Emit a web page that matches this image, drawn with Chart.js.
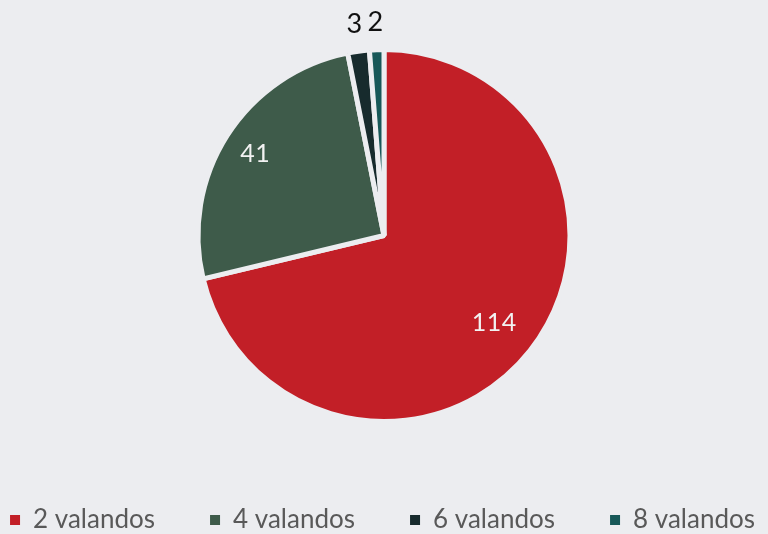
<!DOCTYPE html>
<html>
<head>
<meta charset="utf-8">
<script src="https://cdn.jsdelivr.net/npm/chart.js@4/dist/chart.umd.min.js"></script>
<style>
  html, body { margin: 0; padding: 0; background: #ECEDF0; }
  #wrap { width: 768px; height: 534px; position: relative; }
</style>
</head>
<body>
<div id="wrap"><canvas id="c" width="768" height="534"></canvas></div>
<script>
const categories = ['2 valandos', '4 valandos', '6 valandos', '8 valandos'];
const values = [114, 41, 3, 2];
const colors = ['#C21F27', '#3E5B4A', '#172B2D', '#175858'];
const bg = '#ECEDF0';

const FONT = 'Lato';
const LEGEND_SIZE = 26;
const BOX = 10;
const PITCH = 200;

// measure legend text to derive padding giving the desired item pitch
const mctx = document.createElement('canvas').getContext('2d');
mctx.font = LEGEND_SIZE + 'px ' + FONT;
const tw = mctx.measureText(categories[0]).width;
const legendPad = Math.max(10, PITCH - (BOX + LEGEND_SIZE / 2 + tw));
// legend text centre at y=520, legend bottom at 534+8.5, pie centre y = 235.5
const legendTop = 520 - legendPad - LEGEND_SIZE / 2;
const bottomPad = 534 - (legendTop + LEGEND_SIZE + legendPad + 10);
const topPad = 2 * 235.5 - legendTop;

const labelPlugin = {
  id: 'sliceLabels',
  afterDatasetsDraw(chart) {
    const ctx = chart.ctx;
    const meta = chart.getDatasetMeta(0);
    const data = chart.data.datasets[0].data;
    const total = data.reduce((a, b) => a + b, 0);
    ctx.save();
    ctx.letterSpacing = '0.5px';
    ctx.textAlign = 'center';
    ctx.textBaseline = 'alphabetic';
    meta.data.forEach((arc, i) => {
      const p = arc.getProps(['x', 'y', 'startAngle', 'endAngle', 'outerRadius'], true);
      const mid = (p.startAngle + p.endAngle) / 2;
      const frac = data[i] / total;
      const txt = String(data[i]);
      let r, col, size;
      if (frac < 0.05) {
        size = 27;
        ctx.font = size + 'px ' + FONT;
        r = p.outerRadius + 28; col = '#111111';
      } else {
        size = 25;
        ctx.font = size + 'px ' + FONT;
        const w = ctx.measureText(txt).width;
        r = p.outerRadius * 0.956 - 0.83 * w; col = '#F2F2F2';
      }
      ctx.fillStyle = col;
      const cx = p.x + Math.cos(mid) * r;
      const cy = p.y + Math.sin(mid) * r;
      ctx.fillText(txt, cx, cy + 0.36 * size);
    });
    ctx.restore();
  }
};

new Chart(document.getElementById('c'), {
  type: 'pie',
  data: {
    labels: categories,
    datasets: [{
      data: values,
      backgroundColor: colors,
      borderColor: bg,
      borderWidth: 5,
      radius: 186
    }]
  },
  options: {
    responsive: false,
    animation: false,
    layout: { padding: { top: topPad, bottom: bottomPad, left: -101.5, right: -98.5 } },
    plugins: {
      tooltip: { enabled: false },
      legend: {
        position: 'bottom',
        labels: {
          boxWidth: BOX,
          boxHeight: BOX,
          padding: legendPad,
          color: '#595959',
          font: { family: FONT, size: LEGEND_SIZE },
          generateLabels(chart) {
            const items = Chart.controllers.pie.overrides.plugins.legend.labels.generateLabels(chart);
            items.forEach(it => { it.lineWidth = 0; it.strokeStyle = it.fillStyle; });
            return items;
          }
        }
      }
    }
  },
  plugins: [labelPlugin]
});
</script>
</body>
</html>
